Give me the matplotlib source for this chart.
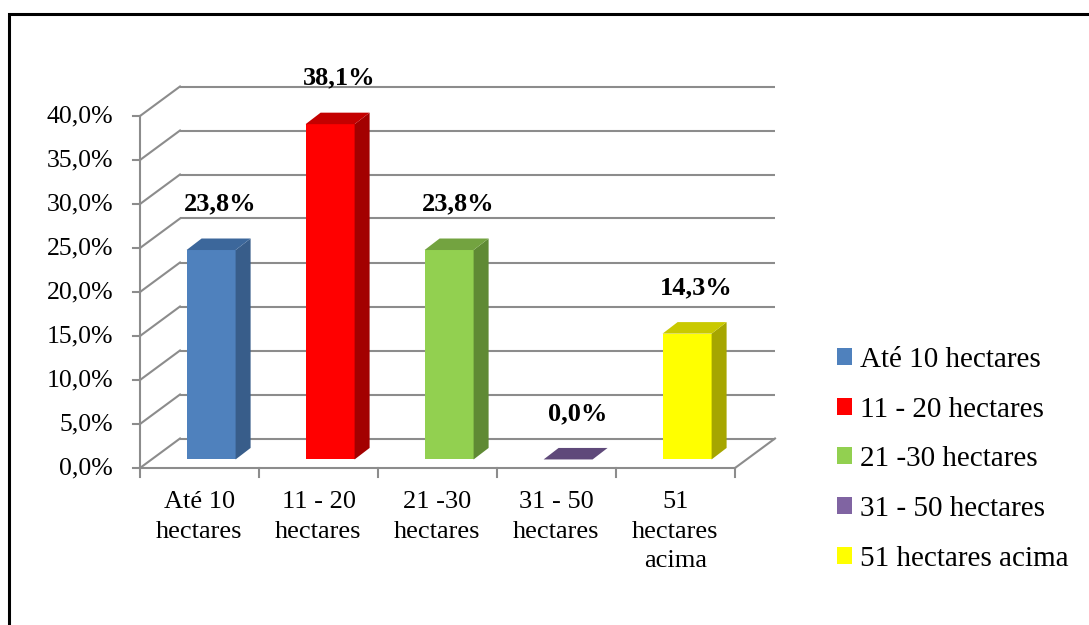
import matplotlib
matplotlib.use("Agg")
import matplotlib.pyplot as plt
from matplotlib.patches import Polygon, Rectangle, Patch

plt.rcParams["font.family"] = ["Liberation Serif", "DejaVu Serif"]

# ---------------- data ----------------
categories = ["Até 10 hectares", "11 - 20 hectares", "21 -30 hectares",
              "31 - 50 hectares", "51 hectares acima"]
tick_labels = ["Até 10\nhectares", "11 - 20\nhectares", "21 -30\nhectares",
               "31 - 50\nhectares", "51\nhectares\nacima"]
values = [23.8, 38.1, 23.8, 0.0, 14.3]
value_labels = ["23,8%", "38,1%", "23,8%", "0,0%", "14,3%"]
y_ticks = [0, 5, 10, 15, 20, 25, 30, 35, 40]
y_tick_labels = ["0,0%", "5,0%", "10,0%", "15,0%", "20,0%",
                 "25,0%", "30,0%", "35,0%", "40,0%"]

front_colors = ["#4F81BD", "#FF0000", "#92D050", "#8064A2", "#FFFF00"]
side_colors = ["#385D8A", "#A30000", "#5F8A34", "#5C4776", "#A6A600"]
top_colors = ["#3C679B", "#C40000", "#73A340", "#5F497A", "#C9C900"]

# ---------------- layout ----------------
W, H = 1089, 625
fig = plt.figure(figsize=(W / 100, H / 100), dpi=100)
# front plane of the 3D box
ax = fig.add_axes([140 / W, (H - 468) / H, 595 / W, 352 / H])
ax.set_xlim(0, 5)
ax.set_ylim(0, 40)
ax.axis("off")

pxx = 595 / 5.0      # px per category
pxy = 352 / 40.0     # px per percent
dx = 40 / pxx        # depth offset of back wall
dy = 29.5 / pxy
bar_w = 49 / pxx
bar_depth_frac = 0.29
ddx = 15 / pxx       # bar depth
ddy = 11.5 / pxy

grid_c = "#8C8C8C"
glw = 1.5
n = len(categories)

# back wall gridlines and left wall diagonals
for t in y_ticks:
    ax.plot([dx, n + dx], [t + dy, t + dy], color=grid_c, lw=glw,
            clip_on=False, zorder=1, solid_capstyle="butt")
    ax.plot([0, dx], [t, t + dy], color=grid_c, lw=glw, clip_on=False, zorder=1)
# floor
ax.plot([0, n], [0, 0], color=grid_c, lw=glw, clip_on=False, zorder=1)
ax.plot([n, n + dx], [0, dy], color=grid_c, lw=glw, clip_on=False, zorder=1)
# y axis line and ticks
ax.plot([0, 0], [0, y_ticks[-1]], color=grid_c, lw=glw, clip_on=False, zorder=2)
for t, lab in zip(y_ticks, y_tick_labels):
    ax.plot([-7 / pxx, 0], [t, t], color=grid_c, lw=glw, clip_on=False, zorder=2)
    ax.text(-27 / pxx, t, lab, ha="right", va="center", fontsize=18.5,
            clip_on=False)
# x ticks
for i in range(n + 1):
    ax.plot([i, i], [0, -9 / pxy], color=grid_c, lw=glw, clip_on=False, zorder=2)
for i, lab in enumerate(tick_labels):
    ax.text(i + 0.5, -23 / pxy, lab, ha="center", va="top", fontsize=19,
            linespacing=1.45, clip_on=False)

# bars
ox = bar_depth_frac * dx
oy = bar_depth_frac * dy
for i, v in enumerate(values):
    x0 = i + 0.5 - bar_w / 2 + ox
    x1 = x0 + bar_w
    yb = oy
    yt = v + oy
    if v > 0:
        ax.add_patch(Polygon([(x0, yb), (x1, yb), (x1, yt), (x0, yt)],
                             closed=True, fc=front_colors[i], ec="none",
                             zorder=5, clip_on=False))
        ax.add_patch(Polygon([(x1, yb), (x1 + ddx, yb + ddy),
                              (x1 + ddx, yt + ddy), (x1, yt)],
                             closed=True, fc=side_colors[i], ec="none",
                             zorder=5, clip_on=False))
    ax.add_patch(Polygon([(x0, yt), (x1, yt), (x1 + ddx, yt + ddy),
                          (x0 + ddx, yt + ddy)],
                         closed=True, fc=top_colors[i], ec="none",
                         zorder=6, clip_on=False))
    ax.text(i + 0.5 + ox + 0.08, v + 6.2, value_labels[i], ha="center",
            va="center", fontsize=19, fontweight="bold", clip_on=False,
            zorder=7)

# legend
handles = [Patch(fc=c, ec="none") for c in front_colors]
fig.legend(handles, categories, loc="upper left",
           bbox_to_anchor=(837 / W, 1 - 347 / H), frameon=False,
           fontsize=21, handlelength=0.52, handleheight=0.52,
           handletextpad=0.27, labelspacing=0.81, borderpad=0,
           borderaxespad=0)

# outer frame (runs off right and bottom edges)
fig.patches.append(Rectangle((8.5 / W, -0.1), 1.2, 1.1 - 13.5 / H,
                             transform=fig.transFigure, fill=False,
                             ec="black", lw=2.2))

fig.savefig("out.png", dpi=100)
